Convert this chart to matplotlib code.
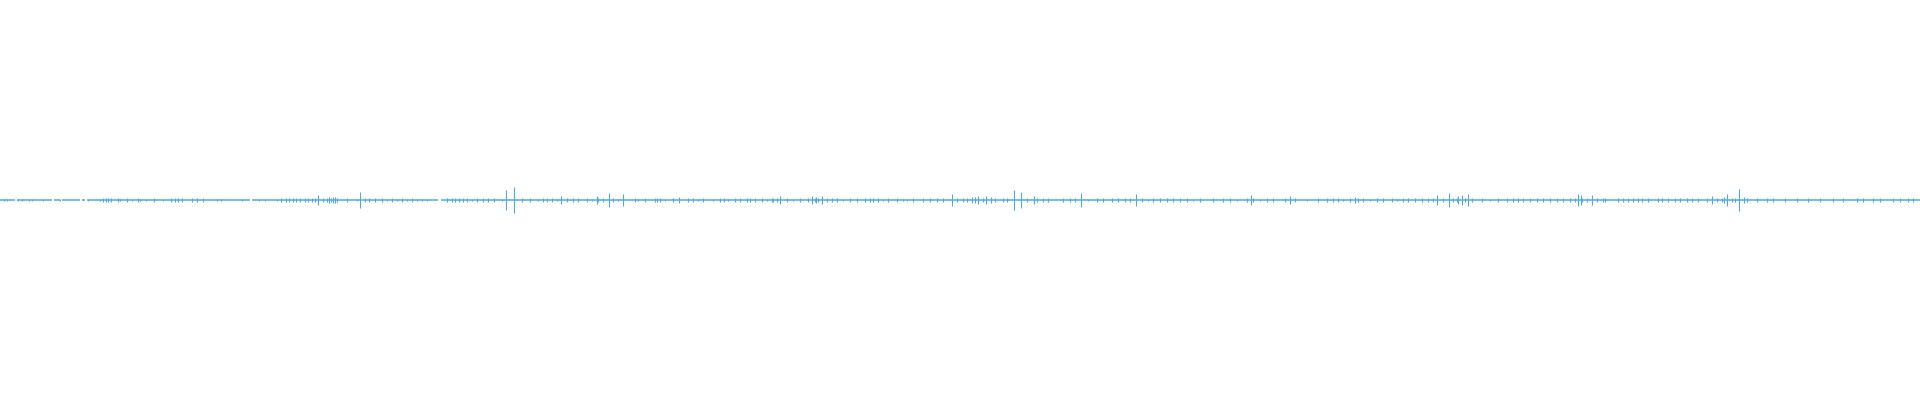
import matplotlib

matplotlib.use("Agg")
import matplotlib.pyplot as plt

# waveform drawn one bar per column; x in samples (0..1920), amplitude normalised to [-1, 1]
WAVE_COLOR = "#52a9e2"
N_SAMPLES = 1920

# stretches where the signal is present (the flat centre band); gaps are silent
signal_spans = [
    (0, 15), (17, 52), (54, 60), (62, 80), (82, 85), (87, 250), (252, 438),
    (441, 1920),
]

# prominent peaks: sample position and half-amplitude
peak_x = [318, 329, 331, 333, 335, 360, 506, 514, 561, 597, 609, 623, 679,
          773, 780, 812, 816, 822, 952, 972, 975, 978, 986, 991, 1014, 1021,
          1034, 1081, 1136, 1251, 1290, 1355, 1437, 1449, 1458, 1462, 1468,
          1578, 1581, 1592, 1712, 1724, 1727, 1739, 1744]
peak_amp = [0.024, 0.013, 0.010, 0.015, 0.016, 0.042, 0.049, 0.064, 0.019,
            0.019, 0.037, 0.029, 0.013, 0.012, 0.022, 0.020, 0.015, 0.022,
            0.029, 0.015, 0.017, 0.022, 0.020, 0.015, 0.049, 0.042, 0.018,
            0.035, 0.029, 0.027, 0.018, 0.013, 0.027, 0.037, 0.022, 0.027,
            0.029, 0.029, 0.025, 0.027, 0.021, 0.017, 0.032, 0.057, 0.013]

# low-level chatter along the band
small_x = [4, 7, 18, 22, 29, 32, 43, 60, 88, 100, 103, 106, 108, 111, 118, 120,
           127, 132, 138, 140, 146, 154, 163, 171, 175, 178, 182, 192, 197, 203,
           217, 221, 242, 259, 265, 277, 281, 286, 289, 293, 296, 300, 305, 308,
           312, 315,
           323, 327, 337, 347, 357, 365, 369, 375, 382, 387, 392, 397, 402, 407,
           412, 417, 422, 427, 447, 452, 455, 459, 463, 467, 472, 477, 483, 488,
           494, 502, 522, 530, 538, 543, 547, 552, 557, 567, 573, 578, 587, 592,
           598, 603, 613, 618, 635, 638,
           645, 655, 657, 660, 665, 673, 688, 693, 698, 703, 713, 720, 724, 728,
           735, 740, 747, 750, 755, 762, 767, 772, 777, 787, 793, 800, 808, 815,
           818, 827, 832, 837, 843, 850, 857, 865, 870, 873, 878, 883, 888, 897,
           903, 907, 913, 923, 930, 937, 943, 957,
           963, 967, 983, 995, 1003, 1007, 1027, 1037, 1043, 1048, 1063, 1070,
           1075, 1088, 1097, 1103, 1112, 1118, 1125, 1130, 1142, 1148, 1153, 1160,
           1167, 1173, 1180, 1187, 1193, 1200, 1213, 1223, 1230, 1237, 1247, 1253,
           1260, 1267, 1273,
           1285, 1295, 1307, 1318, 1327, 1333, 1338, 1343, 1350, 1358, 1363, 1370,
           1377, 1383, 1392, 1397, 1403, 1408, 1415, 1422, 1428, 1433, 1443, 1453,
           1457, 1465, 1472, 1482, 1490, 1498, 1507, 1513, 1518, 1523, 1530, 1537,
           1543, 1550, 1557, 1563, 1570, 1575, 1582, 1587, 1597,
           1603, 1605, 1618, 1623, 1628, 1633, 1638, 1642, 1648, 1658, 1662, 1668,
           1675, 1680, 1687, 1692, 1698, 1707, 1717, 1722, 1732, 1735, 1747, 1757,
           1767, 1773, 1785, 1797, 1808, 1820, 1833, 1843, 1857, 1863, 1873, 1880,
           1893, 1900, 1908, 1913]
small_amp = [0.006, 0.006, 0.006, 0.006, 0.006, 0.006, 0.006, 0.006, 0.006, 0.006,
             0.008, 0.008, 0.010, 0.010, 0.008, 0.006, 0.008, 0.006, 0.008, 0.006,
             0.006, 0.008, 0.006, 0.008, 0.010, 0.010, 0.008, 0.010, 0.010, 0.008,
             0.006, 0.006, 0.006, 0.006, 0.006, 0.006, 0.010, 0.012, 0.010, 0.008,
             0.008, 0.008, 0.008, 0.010, 0.008, 0.010,
             0.008, 0.010, 0.012, 0.008, 0.006, 0.010, 0.008, 0.008, 0.008, 0.006,
             0.008, 0.006, 0.008, 0.006, 0.008, 0.006, 0.006, 0.006, 0.008, 0.008,
             0.010, 0.012, 0.008, 0.008, 0.006, 0.008, 0.008, 0.010, 0.008, 0.006,
             0.008, 0.008, 0.006, 0.008, 0.010, 0.008, 0.006, 0.008, 0.008, 0.010,
             0.008, 0.006, 0.010, 0.008, 0.008, 0.006, 0.008, 0.006,
             0.008, 0.010, 0.010, 0.008, 0.006, 0.008, 0.008, 0.010, 0.006, 0.008,
             0.006, 0.008, 0.008, 0.006, 0.008, 0.010, 0.008, 0.008, 0.010, 0.008,
             0.006, 0.008, 0.010, 0.008, 0.006, 0.008, 0.008, 0.012, 0.010, 0.008,
             0.010, 0.008, 0.006, 0.010, 0.008, 0.008, 0.010, 0.008, 0.008, 0.006,
             0.008, 0.008, 0.006, 0.006, 0.008, 0.008, 0.010, 0.008, 0.008, 0.008,
             0.008, 0.010, 0.012, 0.010, 0.008, 0.008, 0.008, 0.010, 0.008, 0.008,
             0.012, 0.010, 0.008, 0.006, 0.008, 0.008, 0.010, 0.008, 0.008, 0.010,
             0.008, 0.006, 0.008, 0.010, 0.012, 0.010, 0.008, 0.008, 0.006, 0.008,
             0.008, 0.008, 0.008, 0.006, 0.008, 0.008, 0.006, 0.008, 0.008,
             0.008, 0.008, 0.006, 0.008, 0.008, 0.010, 0.008, 0.006, 0.010, 0.008,
             0.008, 0.006, 0.008, 0.010, 0.008, 0.006, 0.008, 0.008, 0.010, 0.008,
             0.008, 0.008, 0.012, 0.010, 0.012, 0.010, 0.008, 0.008, 0.006, 0.010,
             0.008, 0.008, 0.010, 0.008, 0.008, 0.008, 0.008, 0.010, 0.008, 0.008,
             0.008, 0.008, 0.012, 0.010, 0.012,
             0.010, 0.008, 0.008, 0.010, 0.008, 0.008, 0.008, 0.008, 0.010, 0.008,
             0.008, 0.008, 0.008, 0.008, 0.010, 0.008, 0.008, 0.008, 0.008, 0.010,
             0.008, 0.008, 0.008, 0.008, 0.010, 0.008, 0.008, 0.008, 0.008, 0.008,
             0.010, 0.008, 0.008, 0.010, 0.008, 0.008, 0.008, 0.008, 0.010, 0.008]


def main() -> int:
    fig = plt.figure(figsize=(19.2, 4.0), dpi=100)
    ax = fig.add_axes([0, 0, 1, 1])
    ax.set_xlim(0, N_SAMPLES)
    ax.set_ylim(-1, 1)
    ax.axis("off")

    # centre band
    ax.hlines(
        [0] * len(signal_spans),
        [s for s, _ in signal_spans],
        [e for _, e in signal_spans],
        color=WAVE_COLOR,
        lw=1.1,
    )
    # chatter + peaks, mirrored around zero
    ax.vlines(small_x, [-a for a in small_amp], small_amp, color=WAVE_COLOR, lw=0.8)
    ax.vlines(peak_x, [-a for a in peak_amp], peak_amp, color=WAVE_COLOR, lw=0.8)

    fig.savefig("out.png", dpi=100, facecolor="white")
    return 0


if __name__ == "__main__":
    raise SystemExit(main())
